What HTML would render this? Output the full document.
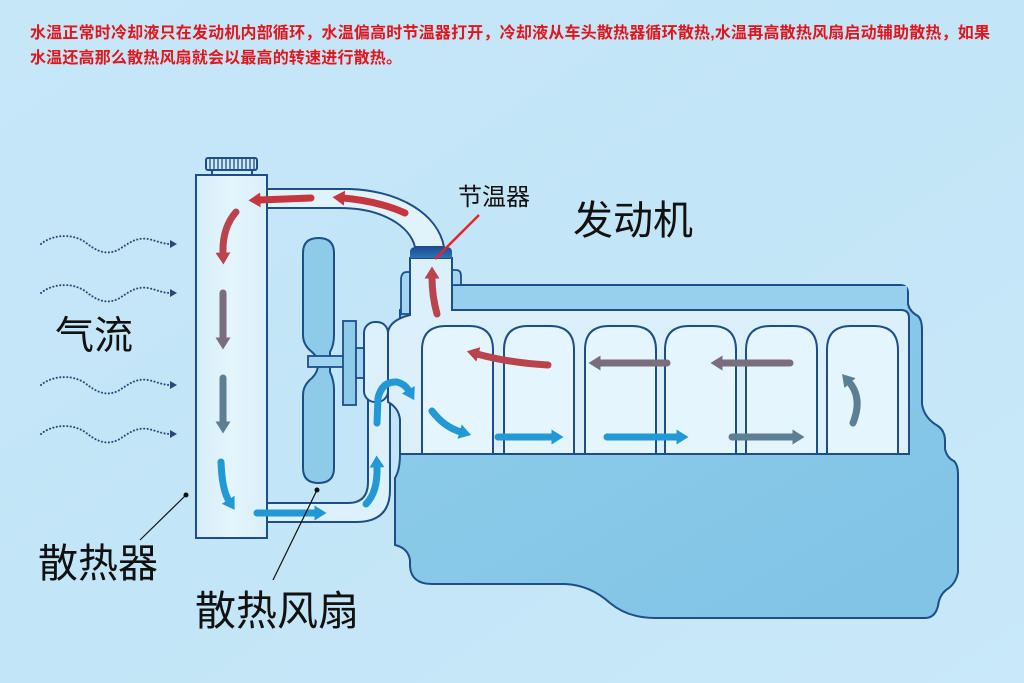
<!DOCTYPE html>
<html><head><meta charset="utf-8"><style>
html,body{margin:0;padding:0;width:1024px;height:683px;overflow:hidden;background:#c5e6f7}
svg{display:block}
text{font-family:"Liberation Sans","Noto Sans CJK SC",sans-serif}
</style></head><body>
<svg width="1024" height="683" viewBox="0 0 1024 683" xmlns="http://www.w3.org/2000/svg">
<defs>
<linearGradient id="bg" x1="0" y1="0" x2="1" y2="1">
<stop offset="0" stop-color="#c6e7f8"/><stop offset="0.5" stop-color="#c2e5f7"/><stop offset="1" stop-color="#c9e9f8"/>
</linearGradient>
<linearGradient id="blk" x1="0" y1="0" x2="1" y2="1">
<stop offset="0" stop-color="#8fcdea"/><stop offset="1" stop-color="#80c3e6"/>
</linearGradient>
<linearGradient id="th" x1="0" y1="0" x2="0" y2="1">
<stop offset="0" stop-color="#1a4d94"/><stop offset="1" stop-color="#2f72b8"/>
</linearGradient>
<linearGradient id="rad" x1="0" y1="0" x2="1" y2="0">
<stop offset="0" stop-color="#d6eef9"/><stop offset="0.5" stop-color="#e4f5fc"/><stop offset="1" stop-color="#d8eff9"/>
</linearGradient>
<marker id="mr" viewBox="0 0 8 10" refX="1" refY="5" markerWidth="12" markerHeight="15" markerUnits="userSpaceOnUse" orient="auto"><path d="M0,0 L8,5 L0,10 z" fill="#c5363f"/></marker>
<marker id="mr2" viewBox="0 0 8 10" refX="1" refY="5" markerWidth="12" markerHeight="15" markerUnits="userSpaceOnUse" orient="auto"><path d="M0,0 L8,5 L0,10 z" fill="#b9444d"/></marker>
<marker id="mm" viewBox="0 0 8 10" refX="1" refY="5" markerWidth="12" markerHeight="15" markerUnits="userSpaceOnUse" orient="auto"><path d="M0,0 L8,5 L0,10 z" fill="#7a6d7d"/></marker>
<marker id="ms" viewBox="0 0 8 10" refX="1" refY="5" markerWidth="12" markerHeight="15" markerUnits="userSpaceOnUse" orient="auto"><path d="M0,0 L8,5 L0,10 z" fill="#5c7f93"/></marker>
<marker id="mb" viewBox="0 0 8 10" refX="1" refY="5" markerWidth="12" markerHeight="15" markerUnits="userSpaceOnUse" orient="auto"><path d="M0,0 L8,5 L0,10 z" fill="#2298d5"/></marker>
</defs>
<rect x="0" y="0" width="1024" height="683" fill="url(#bg)"/>

<!-- top text -->
<text x="30" y="38" font-size="16" font-weight="bold" fill="#e2141c" textLength="960" lengthAdjust="spacing">水温正常时冷却液只在发动机内部循环，水温偏高时节温器打开，冷却液从车头散热器循环散热,水温再高散热风扇启动辅助散热，如果</text>
<text x="30" y="63" font-size="16" font-weight="bold" fill="#e2141c" textLength="372" lengthAdjust="spacing">水温还高那么散热风扇就会以最高的转速进行散热。</text>

<!-- airflow waves -->
<g fill="none" stroke="#28497a" stroke-width="2" stroke-dasharray="0.1 3.4" stroke-linecap="round">
<path d="M41 244 C50 236 70 232 85 242 C95 250 105 256 118 250 C128 244 135 237 148 239 C158 241 162 244 171 244"/>
<path d="M41 293 C50 285 70 281 85 291 C95 299 105 305 118 299 C128 293 135 286 148 288 C158 290 162 293 171 293"/>
<path d="M41 385 C50 377 70 373 85 383 C95 391 105 397 118 391 C128 385 135 378 148 380 C158 382 162 385 171 385"/>
<path d="M41 434 C50 426 70 422 85 432 C95 440 105 446 118 440 C128 434 135 427 148 429 C158 431 162 434 171 434"/>
</g>
<g fill="#28497a">
<path d="M170 240 L177 244 L170 248 z"/><path d="M170 289 L177 293 L170 297 z"/>
<path d="M170 381 L177 385 L170 389 z"/><path d="M170 430 L177 434 L170 438 z"/>
</g>
<text x="55" y="349" font-size="39" fill="#111">气流</text>

<!-- radiator cap -->
<rect x="212" y="168" width="40" height="8" fill="#cfe9f6" stroke="#1d4e8a" stroke-width="2"/>
<rect x="206" y="158" width="51" height="12" rx="2" fill="#cfe9f6" stroke="#1d4e8a" stroke-width="2"/>
<g stroke="#1d4e8a" stroke-width="1.3">
<line x1="210" y1="159" x2="210" y2="169"/><line x1="214" y1="159" x2="214" y2="169"/><line x1="218" y1="159" x2="218" y2="169"/><line x1="222" y1="159" x2="222" y2="169"/><line x1="226" y1="159" x2="226" y2="169"/><line x1="230" y1="159" x2="230" y2="169"/><line x1="234" y1="159" x2="234" y2="169"/><line x1="238" y1="159" x2="238" y2="169"/><line x1="242" y1="159" x2="242" y2="169"/><line x1="246" y1="159" x2="246" y2="169"/><line x1="250" y1="159" x2="250" y2="169"/><line x1="254" y1="159" x2="254" y2="169"/>
</g>
<!-- radiator -->
<rect x="196" y="175" width="71" height="363" fill="url(#rad)" stroke="#1d4e8a" stroke-width="2"/>

<!-- upper pipe -->
<path d="M267 189 L350 189 C400 191 438 214 444 247 L415 247 C410 226 382 208 340 208 L267 208 Z" fill="#e0f3fb" stroke="#1d4e8a" stroke-width="2"/>

<!-- lower pipe -->
<path d="M267 503 L348 503 Q368 503 368 482 L368 390 L390 390 L390 490 Q390 522 356 522 L267 522 Z" fill="#dcf1fb" stroke="#1d4e8a" stroke-width="2"/>

<!-- fan -->
<path d="M303 253 Q303 238 318.5 238 Q334 238 334 253 L334 335 Q334 345 330 352 L330 372 Q334 380 334 390 L334 468 Q334 483 318.5 483 Q303 483 303 468 L303 395 Q303 385 312 378 Q318 372 318 365 Q318 357 312 352 Q303 345 303 335 Z" fill="#8dcbe9" stroke="#1d4e8a" stroke-width="2"/>
<rect x="308" y="356" width="36" height="11" fill="#9fd4ee" stroke="#1d4e8a" stroke-width="1.8"/>
<rect x="343" y="321" width="13" height="84" fill="#8dcbe9" stroke="#1d4e8a" stroke-width="1.8"/>
<rect x="356" y="348" width="9" height="30" fill="#9fd4ee" stroke="#1d4e8a" stroke-width="1.8"/>

<!-- engine outer -->
<path d="M452 285 L900 285 Q908 285 908 293 L908 304 Q910 312 918 316 Q922 320 922 330 L922 404 Q924 418 938 426 Q945 431 945 441 L945 449 Q947 458 954 461 Q958 465 958 474 L958 572 Q956 584 946 590 Q939 596 938 606 Q935 618 925 618 L655 618 Q628 618 610 603 Q590 585 565 584 L432 584 Q411 584 410 566 L410 560 Q408 548 395 545 L395 478 Q400 470 400 454 L400 310 L452 310 Z" fill="url(#blk)" stroke="#1d4e8a" stroke-width="2"/>
<rect x="452" y="286" width="455" height="24" fill="#95d0ec"/>
<!-- bumps -->
<path d="M452 285 L452 270 L456 270 Q461 270 461 276 L461 285 Z" fill="#a3d6ee" stroke="#1d4e8a" stroke-width="1.8"/>
<path d="M410 272 L407 272 Q401 272 401 280 L401 314 L410 314 Z" fill="#a3d6ee" stroke="#1d4e8a" stroke-width="1.8"/>
<!-- light region -->
<path d="M410 258 L452 258 L452 310 L901 310 Q909 310 909 318 L909 454 L400 454 L400 420 Q399 408 388 402 L388 332 Q390 320 410 315 Z" fill="#dbf0fa" stroke="#1d4e8a" stroke-width="2"/>
<!-- pump -->
<rect x="364" y="322" width="24" height="80" rx="11" fill="#dcf1fb" stroke="#1d4e8a" stroke-width="2"/>
<!-- thermostat -->
<path d="M410 258 L410 252 Q410 247 416 247 L446 247 Q452 247 452 252 L452 258 Z" fill="url(#th)"/>

<!-- cylinders -->
<g fill="#e4f5fd" stroke="#1d4e8a" stroke-width="2">
<path d="M422 454 L422 350 Q422 326 446 326 L469 326 Q493 326 493 350 L493 454"/>
<path d="M504 454 L504 350 Q504 326 528 326 L550 326 Q574 326 574 350 L574 454"/>
<path d="M585 454 L585 350 Q585 326 609 326 L632 326 Q656 326 656 350 L656 454"/>
<path d="M665 454 L665 350 Q665 326 689 326 L712 326 Q736 326 736 350 L736 454"/>
<path d="M746 454 L746 350 Q746 326 770 326 L793 326 Q817 326 817 350 L817 454"/>
<path d="M827 454 L827 350 Q827 326 851 326 L874 326 Q898 326 898 350 L898 454"/>
</g>
<line x1="400" y1="454" x2="909" y2="454" stroke="#1d4e8a" stroke-width="2"/>

<!-- arrows -->
<g fill="none" stroke-width="7" stroke-linecap="round">
<path d="M405 213 Q378 201 343 198" stroke="#c5363f" marker-end="url(#mr)"/>
<path d="M311 198 L259 200" stroke="#c5363f" marker-end="url(#mr)"/>
<path d="M236 212 Q222 228 223 254" stroke="#b9444d" marker-end="url(#mr2)"/>
<path d="M223 293 L223 339" stroke="#7a6d7d" marker-end="url(#mm)"/>
<path d="M223 378 L223 423" stroke="#5c7f93" marker-end="url(#ms)"/>
<path d="M221 462 Q222 490 229 501" stroke="#2298d5" marker-end="url(#mb)"/>
<path d="M257 513 L316 513" stroke="#2298d5" marker-end="url(#mb)"/>
<path d="M366 504 Q378 492 377 466" stroke="#2298d5" marker-end="url(#mb)"/>
<path d="M377 423 L378 398 Q382 381 397 382 Q405 384 409 391" stroke="#2298d5" marker-end="url(#mb)"/>
<path d="M432 411 Q444 427 461 432" stroke="#2298d5" marker-end="url(#mb)"/>
<path d="M498 437 L553 437" stroke="#2298d5" marker-end="url(#mb)"/>
<path d="M607 437 L678 437" stroke="#2298d5" marker-end="url(#mb)"/>
<path d="M732 437 L794 437" stroke="#5c7f93" marker-end="url(#ms)"/>
<path d="M853 423 Q863 398 849 382" stroke="#5c7f93" marker-end="url(#ms)"/>
<path d="M548 365 Q510 363 477 354" stroke="#b9444d" marker-end="url(#mr2)"/>
<path d="M667 363 L599 363" stroke="#7a6d7d" marker-end="url(#mm)"/>
<path d="M790 363 L721 363" stroke="#7a6d7d" marker-end="url(#mm)"/>
<path d="M437 314 Q432 296 432 277" stroke="#b9444d" marker-end="url(#mr2)"/>
</g>

<!-- labels and leaders -->
<line x1="479" y1="215" x2="435" y2="259" stroke="#e8232b" stroke-width="2.5"/>
<text x="458" y="205" font-size="24" fill="#111">节温器</text>
<text x="573" y="234" font-size="40" fill="#111">发动机</text>

<line x1="140" y1="540" x2="186" y2="495" stroke="#111" stroke-width="1.2"/>
<circle cx="186" cy="495" r="2.5" fill="#111"/>
<line x1="273" y1="580" x2="317" y2="490" stroke="#111" stroke-width="1.2"/>
<circle cx="317" cy="490" r="2.5" fill="#111"/>
<text x="38" y="577" font-size="40" fill="#111">散热器</text>
<text x="195" y="625" font-size="41" fill="#111">散热风扇</text>
</svg>
</body></html>
